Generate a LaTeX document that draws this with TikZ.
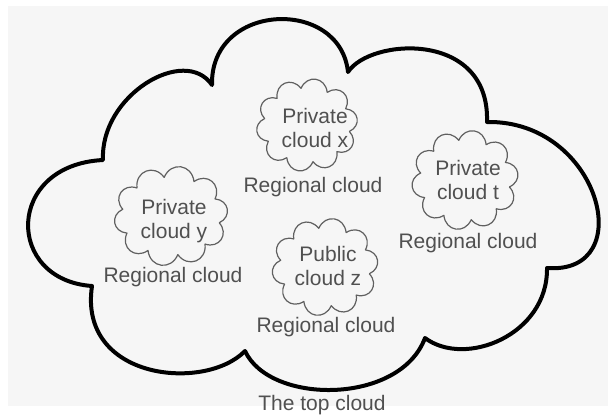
\documentclass[tikz,border=0pt]{standalone}
\usepackage{fontspec}
\setmainfont{Liberation Sans}
\definecolor{txt}{HTML}{505050}
\definecolor{bg}{HTML}{F6F6F6}
\definecolor{small}{HTML}{606060}
\newcommand{\puffcloud}[4]{%
  \draw[smallline] ({#1+#3*cos(10)},{#2+#4*sin(10)})
    \foreach \k in {1,...,10}{ to[bend left=75, looseness=1.5]
      ({#1+#3*cos(36*\k+10)},{#2+#4*sin(36*\k+10)}) };}
\begin{document}
\begin{tikzpicture}[x=1pt,y=-1pt,
  smallline/.style={draw=small, line width=1.2pt, line join=round},
  lbl/.style={text=txt, font=\fontsize{21}{24}\selectfont, inner sep=0pt, align=center}]
\useasboundingbox (0,0) rectangle (615,418);
\fill[white] (0,0) rectangle (615,418);
\fill[bg] (8,6) rectangle (608,406);
% outer cloud
\draw[line width=4pt, line join=round]
  (103,160) .. controls (100,95) and (185,45) .. (212,85)
  .. controls (210,2) and (340,-3) .. (348,72)
  .. controls (370,38) and (490,30) .. (487,122)
  .. controls (600,120) and (640,275) .. (547,268)
  .. controls (548,335) and (465,368) .. (425,338)
  .. controls (400,405) and (270,405) .. (245,351)
  .. controls (205,392) and (78,380) .. (92,286)
  .. controls (5,280) and (5,165) .. (103,160) -- cycle;
% small clouds
\puffcloud{307}{125}{43}{37}
\puffcloud{465}{180}{45}{40}
\puffcloud{171}{216}{49}{39}
\puffcloud{325}{267}{45}{39}
% texts
\node[lbl] (tx) at (315,128) {Private\\cloud x};
\node[lbl] (tt) at (468,180) {Private\\cloud t};
\node[lbl] (ty) at (174,221) {Private\\cloud y};
\node[lbl] (tz) at (328,266) {Public\\cloud z};
\node[lbl] (rx) at (313,187) {Regional cloud};
\node[lbl] (rt) at (468,243) {Regional cloud};
\node[lbl] (ry) at (173,277) {Regional cloud};
\node[lbl] (rz) at (326,327) {Regional cloud};
\node[lbl] (top) at (322,405) {The top cloud};
\end{tikzpicture}
\end{document}
